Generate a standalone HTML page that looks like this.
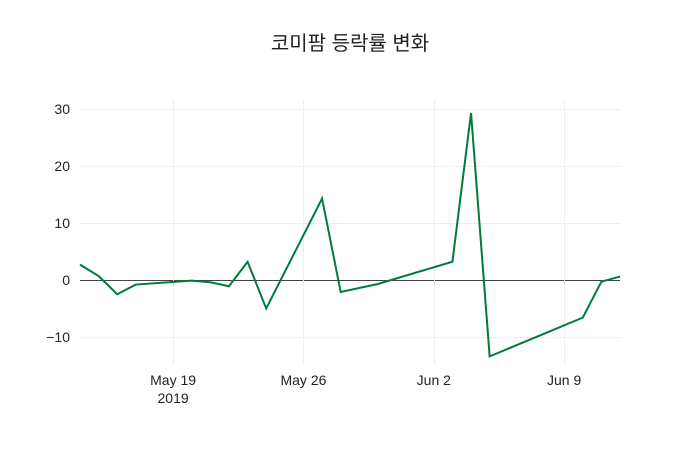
<!DOCTYPE html>
<html><head><meta charset="utf-8"><style>
body{margin:0;background:#fff;}
svg{font-family:"Liberation Sans","Noto Sans CJK KR",sans-serif;}
</style></head><body>
<svg id="chart" width="700" height="450">
<rect width="700" height="450" fill="#fff"/>
<text x="350" y="50" text-anchor="middle" font-size="20" fill="#222">코미팜 등락률 변화</text>
<g id="grid"></g><g id="axes"></g><g id="series"></g>
</svg>
<script>
const dates=["2019-05-14","2019-05-15","2019-05-16","2019-05-17","2019-05-20","2019-05-21","2019-05-22","2019-05-23","2019-05-24","2019-05-27","2019-05-28","2019-05-30","2019-06-03","2019-06-04","2019-06-05","2019-06-10","2019-06-11","2019-06-12"];
const values=[2.7,0.7,-2.5,-0.8,-0.1,-0.4,-1.1,3.2,-5.0,14.3,-2.1,-0.7,3.2,29.3,-13.4,-6.6,-0.3,0.6];
const yTicks=[-10,0,10,20,30];
const xTickDates=["2019-05-19","2019-05-26","2019-06-02","2019-06-09"];
const xTickLabels=["May 19","May 26","Jun 2","Jun 9"];
const NS="http://www.w3.org/2000/svg";
const day=s=>Date.UTC(+s.slice(0,4),+s.slice(5,7)-1,+s.slice(8,10))/864e5;
const x0=day(dates[0]),x1=day(dates[dates.length-1]);
const X=d=>80+(day(d)-x0)/(x1-x0)*540;
const Y=v=>280-v*5.7;
function mk(t,a,p){const e=document.createElementNS(NS,t);for(const k in a)e.setAttribute(k,a[k]);p.appendChild(e);return e;}
const grid=document.getElementById('grid'),axes=document.getElementById('axes'),ser=document.getElementById('series');
yTicks.forEach(v=>{
 const yy=Math.round(Y(v))+0.5;
 const l=mk('line',{x1:80,x2:620,y1:yy,y2:yy,stroke:v===0?'#444':'#eee','stroke-width':1},grid);
 
 
 const t=mk('text',{x:70,y:Y(v)+5,'text-anchor':'end','font-size':14,fill:'#222'},axes);
 t.textContent=v<0?'\u2212'+Math.abs(v):v;
 
 
});
xTickDates.forEach((d,i)=>{
 const xx=Math.round(X(d))+0.5;
 const l=mk('line',{x1:xx,x2:xx,y1:100,y2:365,stroke:'#eee','stroke-width':1},grid);
 
 
 const t=mk('text',{x:X(d),y:385,'text-anchor':'middle','font-size':14,fill:'#222'},axes);
 t.textContent=xTickLabels[i];
 
 
});
const yr=mk('text',{x:X(xTickDates[0]),y:403,'text-anchor':'middle','font-size':14,fill:'#222'},axes);
yr.textContent='2019';


const p=mk('polyline',{points:dates.map((d,i)=>X(d)+','+Y(values[i])).join(' '),fill:'none',stroke:'#007a3d','stroke-width':2},ser);


</script>
</body></html>
